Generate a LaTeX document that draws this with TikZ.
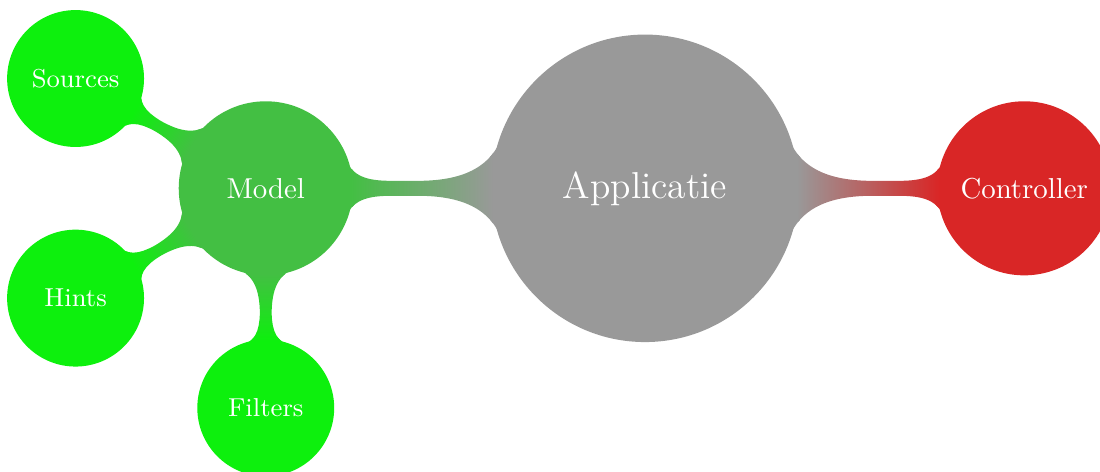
\documentclass[tikz,border=0pt]{standalone}
\usetikzlibrary{mindmap}
\definecolor{appgray}{RGB}{153,153,153}
\definecolor{modelgreen}{RGB}{67,191,67}
\definecolor{leafgreen}{RGB}{13,240,13}
\definecolor{ctrlred}{RGB}{217,38,38}
\begin{document}
\begin{tikzpicture}[x=0.347pt, y=0.347pt, mindmap,
  every node/.append style={text=white, inner sep=0pt, align=center},
  rootbox/.style={concept, minimum size=105.5pt, text width=62pt,
    font=\fontsize{13}{15}\selectfont},
  mainbox/.style={concept, minimum size=59.2pt, text width=46pt,
    font=\fontsize{10}{12}\selectfont},
  leafbox/.style={concept, minimum size=46.3pt, text width=36pt,
    font=\fontsize{9}{11}\selectfont}]
\useasboundingbox (0,0) rectangle (1100,-471);
\path[concept color=appgray] node[rootbox] (app) at (645,-188.3) {Applicatie}
  child[grow=180, level distance=131.6pt, concept color=modelgreen] {
    node[mainbox] (model) {Model}
    child[grow=150, level distance=76.2pt, concept color=leafgreen] {
      node[leafbox] (sources) {Sources}}
    child[grow=210, level distance=76.2pt, concept color=leafgreen] {
      node[leafbox] (hints) {Hints}}
    child[grow=270, level distance=76.2pt, concept color=leafgreen] {
      node[leafbox] (filters) {Filters}}
  }
  child[grow=0, level distance=131.6pt, concept color=ctrlred] {
    node[mainbox] (controller) {Controller}};
\end{tikzpicture}
\end{document}
